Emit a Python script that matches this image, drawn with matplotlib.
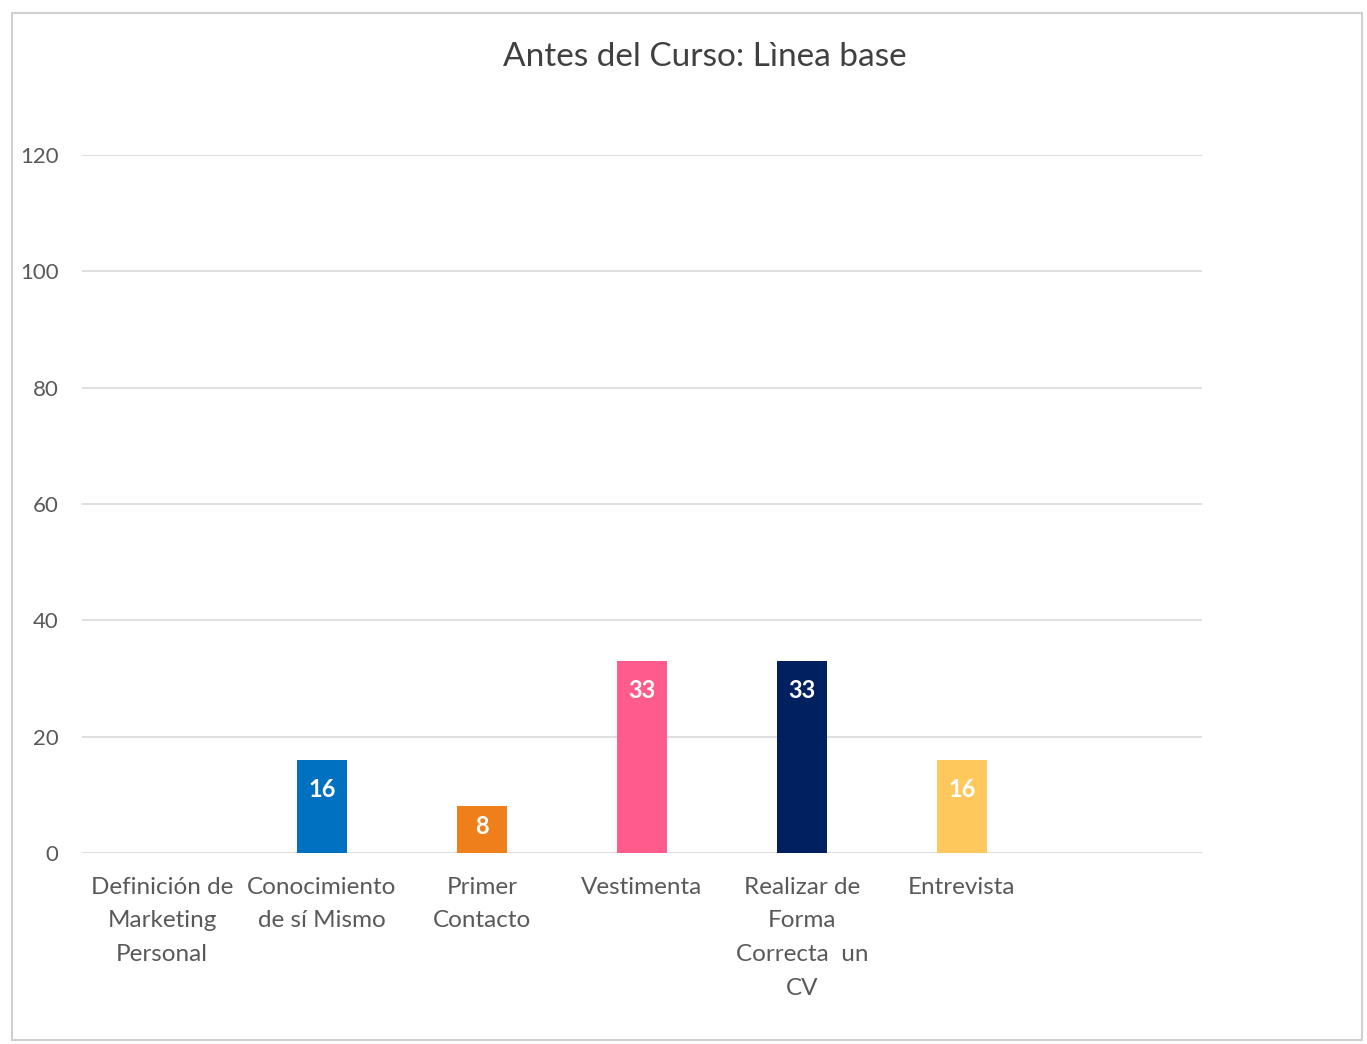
import numpy as np
import matplotlib.pyplot as plt
from matplotlib.patches import Rectangle

plt.rcParams['font.family'] = ['Lato', 'DejaVu Sans']

categorias = ['Definición de\nMarketing\nPersonal', 'Conocimiento\nde sí Mismo',
              'Primer\nContacto', 'Vestimenta', 'Realizar de\nForma\nCorrecta  un\nCV',
              'Entrevista', '']
valores = [0, 16, 8, 33, 33, 16, 0]
colores = ['#0070C0', '#0070C0', '#EE7F1A', '#FF5C8D', '#00205F', '#FFC85C', '#FFFFFF']
etiquetas = ['', '16', '8', '33', '33', '16', '']
yticks = [0, 20, 40, 60, 80, 100, 120]

fig = plt.figure(figsize=(13.67, 10.44), dpi=100, facecolor='white')
fig.patches.append(Rectangle((12 / 1367, 4 / 1044), 1350 / 1367, 1027 / 1044,
                             transform=fig.transFigure, fill=False,
                             edgecolor='#D0D0D0', linewidth=1.5))
ax = fig.add_axes([82 / 1367, 1 - 853 / 1044, 1120 / 1367, 698 / 1044])

x = np.arange(len(categorias))
ax.bar(x, valores, width=0.31, color=colores, zorder=3)

for xi, v, t in zip(x, valores, etiquetas):
    if t:
        off = min(5, v * 0.42)
        ax.text(xi, v - off, t, ha='center', va='center', color='white',
                fontsize=17, fontweight='bold', zorder=4)

ax.set_xlim(-0.5, len(categorias) - 0.5)
ax.set_ylim(0, 120)
ax.set_yticks(yticks)
ax.set_xticks(x)
ax.set_xticklabels(categorias, fontsize=17.5, color='#595959', linespacing=1.75)
ax.tick_params(axis='y', labelsize=16, labelcolor='#595959', length=0, pad=17)
ax.tick_params(axis='x', length=0, pad=17)
ax.grid(axis='y', color='#D9D9D9', linewidth=1.2, zorder=0)
for s in ax.spines.values():
    s.set_visible(False)

fig.text(705 / 1367, 1 - 57 / 1044, 'Antes del Curso: Lìnea base', ha='center',
         va='center', fontsize=24, color='#404040')

fig.savefig('out.png', dpi=100, facecolor='white')
